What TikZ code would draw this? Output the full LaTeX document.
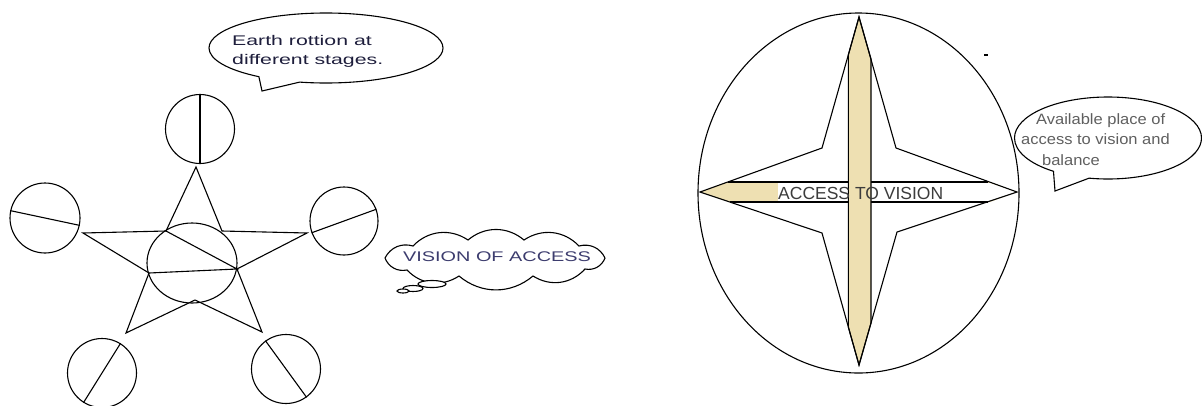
\documentclass[tikz,border=0pt]{standalone}
\usepackage{fontspec}
\usepackage{graphicx}
\newfontfamily\arialf{Liberation Sans}
\usetikzlibrary{shapes.geometric,shapes.symbols,shapes.callouts}
\definecolor{tanfill}{RGB}{238,224,178}
\definecolor{txtA}{RGB}{30,30,60}
\definecolor{txtB}{RGB}{60,60,110}
\definecolor{txtC}{RGB}{60,60,60}
\definecolor{txtG}{RGB}{95,95,95}
\begin{document}
\begin{tikzpicture}[x=1pt,y=-1pt,
  ln/.style={line width=1.1pt, draw=black},
  globe/.style={circle, ln, minimum size=69pt, inner sep=0pt},
  label/.style={inner sep=0pt, anchor=west},
  puff/.style={bend right=40}]
\useasboundingbox (0,0) rectangle (1202,405);

% ---------------- left: pentagram with globes ----------------
\node[globe] (gTop) at (200,129) {};
\node[globe, minimum size=70pt] (gLeft) at (45,218) {};
\node[globe, minimum size=68pt] (gRight) at (344,221) {};
\node[globe] (gBL) at (102,373) {};
\node[globe] (gBR) at (286,369) {};
\draw[ln] (gTop.north) -- (gTop.south);
\draw[ln] (gLeft.168) -- (gLeft.-12);
\draw[ln] (gRight.20) -- (gRight.200);
\draw[ln] (gBL.58) -- (gBL.238);
\draw[ln] (gBR.126) -- (gBR.306);

\node[ellipse, ln, minimum width=90pt, minimum height=80pt, inner sep=0pt] (core) at (192,263) {};

\coordinate (sT) at (196,167);
\coordinate (sIUR) at (222,231);
\coordinate (sR) at (307,233);
\coordinate (sILR) at (237,269);
\coordinate (sBR) at (262,332);
\coordinate (sIB) at (195,300);
\coordinate (sBL) at (126,333);
\coordinate (sILL) at (149,273);
\coordinate (sL) at (83,233);
\coordinate (sIUL) at (166,231);
\draw[ln] (sT) -- (sIUR) -- (sR) -- (sILR) -- (sBR) -- (sIB) -- (sBL) -- (sILL) -- (sL) -- (sIUL) -- cycle;
\draw[ln] (sIUL) -- (sILR) -- (sILL);

% callout
\node[ellipse callout, ln, minimum width=234pt, minimum height=70pt, inner sep=0pt,
      callout absolute pointer={(262,91)}, callout pointer arc=22] (c1) at (326,48) {};
\node[label, text=txtA] (t1) at (232,51.5)
  {\scalebox{1.52}[1]{\arialf\fontsize{14}{19}\selectfont\begin{tabular}{@{}l@{}}Earth rottion at\\different stages.\end{tabular}}};

% cloud (thought bubble)
\coordinate (k0) at (605,258);
\coordinate (k1) at (579,246);
\coordinate (k2) at (524,240);
\coordinate (k3) at (468,240);
\coordinate (k4) at (413,246);
\coordinate (k5) at (385,258);
\coordinate (k6) at (407,270);
\coordinate (k7) at (459,276);
\coordinate (k8) at (533,276);
\coordinate (k9) at (585,269);
\draw[ln, fill=white] (k0) to[puff] (k1) to[puff] (k2) to[puff] (k3) to[puff] (k4) to[puff] (k5)
  to[puff] (k6) to[puff] (k7) to[puff] (k8) to[puff] (k9) to[puff] (k0);
\draw[ln, fill=white] (432,284) ellipse [x radius=14, y radius=3.5];
\draw[ln, fill=white] (413,288.5) ellipse [x radius=10, y radius=3];
\draw[ln, fill=white] (403,291) ellipse [x radius=6, y radius=2];
\node[inner sep=0pt, text=txtB] (cl) at (497,257)
  {\scalebox{1.42}[1]{\arialf\fontsize{14}{16}\selectfont VISION OF ACCESS}};

% ---------------- right: four-point star in ellipse ----------------
\coordinate (T) at (859,17);
\coordinate (B) at (859,365);
\coordinate (L) at (700,192);
\coordinate (R) at (1017,192);
\coordinate (UL) at (822,148);
\coordinate (UR) at (896,148);
\coordinate (LL) at (822,233);
\coordinate (LR) at (897,232);

\fill[tanfill] (L) -- (728,182) -- (990,182) -- (R) -- (990,202) -- (729,202) -- cycle;
\fill[white] (778,183) -- (990,183) -- (1016,192) -- (990,201) -- (778,201) -- cycle;
\draw[ln] (728,182) -- (988,182);
\draw[ln] (730,202) -- (988,202);

\filldraw[fill=tanfill, ln] (T) -- (848.3,55) -- (848.3,327) -- (B) -- (871,323) -- (871,59) -- cycle;

\draw[ln] (T) -- (UR) -- (R) -- (LR) -- (B) -- (LL) -- (L) -- (UL) -- cycle;

\node[label, text=txtC] (acc) at (778,193) {\arialf\fontsize{17.5}{20}\selectfont ACCESS TO VISION};

\node[ellipse, ln, minimum width=321pt, minimum height=360pt, inner sep=0pt] (big) at (858.5,193) {};

\node[ellipse callout, ln, minimum width=187pt, minimum height=82pt, inner sep=0pt,
      callout absolute pointer={(1055,191)}, callout pointer arc=24] (c2) at (1108,138) {};
\node[label, text=txtG] (t2) at (1021,140.5)
  {\scalebox{1.1}[1]{\arialf\fontsize{15}{20.5}\selectfont\begin{tabular}{@{}l@{}}\hspace*{13.6pt}Available place of\\access to vision and\\\hspace*{19pt}balance\end{tabular}}};

\draw[line width=1.4pt] (984,55) -- (987.5,55);
\end{tikzpicture}
\end{document}
